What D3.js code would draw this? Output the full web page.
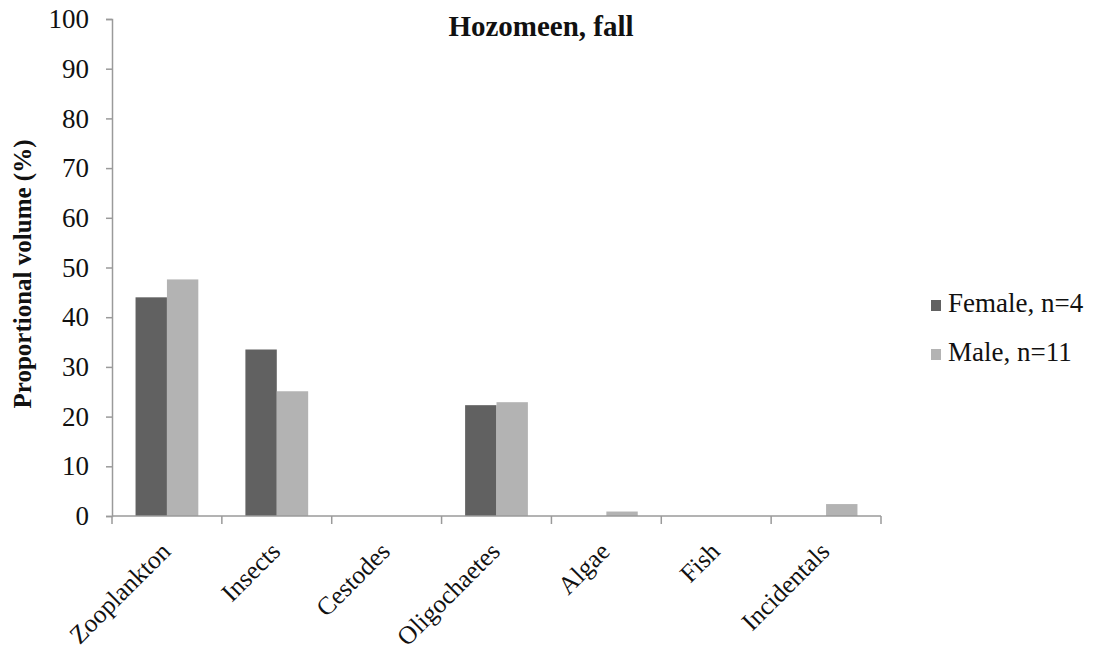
<!DOCTYPE html>
<html>
<head>
<meta charset="utf-8">
<script src="https://cdn.jsdelivr.net/npm/d3@7"></script>
<style>
  body { margin: 0; background: #fff; }
  svg text { font-family: "Liberation Serif", "Times New Roman", serif; }
</style>
</head>
<body>
<svg id="chart" width="1093" height="653"></svg>
<script>
// data
const categories = ["Zooplankton", "Insects", "Cestodes", "Oligochaetes", "Algae", "Fish", "Incidentals"];
const seriesNames = ["Female, n=4", "Male, n=11"];
const female = [44.0, 33.5, 0, 22.3, 0, 0, 0];
const male = [47.6, 25.1, 0, 22.9, 0.9, 0, 2.4];
const yTicks = [0, 10, 20, 30, 40, 50, 60, 70, 80, 90, 100];
const colors = ["#616161", "#b3b3b3"];

const margin = {left: 112, top: 19, right: 881, bottom: 516};
const svg = d3.select("#chart");

const x = d3.scaleBand().domain(categories).range([margin.left, margin.right]);
const xs = d3.scaleBand().domain(seriesNames).range([0, x.bandwidth()]).paddingInner(0).paddingOuter(0.75);
const y = d3.scaleLinear().domain([0, 100]).range([margin.bottom, margin.top]);

const axisColor = "#9a9a9a";

// y axis
const yAxis = svg.append("g")
  .attr("transform", "translate(" + margin.left + ",0)")
  .call(d3.axisLeft(y).tickValues(yTicks).tickSize(6).tickPadding(17));
yAxis.select(".domain").attr("stroke", axisColor).attr("stroke-width", 1.5);
yAxis.selectAll(".tick line").attr("stroke", axisColor).attr("stroke-width", 1.5);
yAxis.selectAll(".tick text")
  .attr("font-size", 27).attr("fill", "#111")
  .style("font-family", "Liberation Serif");

// bars
const data = [female, male];
data.forEach((vals, s) => {
  svg.append("g").selectAll("rect")
    .data(vals)
    .enter().append("rect")
    .attr("x", (d, i) => x(categories[i]) + xs(seriesNames[s]))
    .attr("y", d => y(d))
    .attr("width", xs.bandwidth())
    .attr("height", d => y(0) - y(d))
    .attr("fill", colors[s]);
});

// x axis with ticks between categories
const xAxis = svg.append("g")
  .attr("transform", "translate(0," + margin.bottom + ")");
xAxis.append("line")
  .attr("x1", margin.left).attr("x2", margin.right)
  .attr("stroke", axisColor).attr("stroke-width", 1.5);
const edges = categories.map(c => x(c)).concat([margin.right]);
xAxis.selectAll(".tk").data(edges).enter().append("line")
  .attr("x1", d => d).attr("x2", d => d)
  .attr("y1", 0).attr("y2", 8)
  .attr("stroke", axisColor).attr("stroke-width", 1.5);
xAxis.selectAll(".lbl").data(categories).enter().append("text")
  .attr("transform", d => "translate(" + (x(d) + x.bandwidth() / 2 + 5) + ",37) rotate(-45)")
  .attr("text-anchor", "end")
  .attr("font-size", 25.5)
  .attr("fill", "#111")
  .text(d => d);

// title
svg.append("text")
  .attr("x", 541).attr("y", 36)
  .attr("text-anchor", "middle")
  .attr("font-size", 29).attr("font-weight", "bold")
  .attr("fill", "#111")
  .text("Hozomeen, fall");

// y label
svg.append("text")
  .attr("transform", "translate(31,274) rotate(-90)")
  .attr("text-anchor", "middle")
  .attr("font-size", 25).attr("font-weight", "bold")
  .attr("fill", "#111")
  .text("Proportional volume (%)");

// legend
const legend = svg.append("g").attr("transform", "translate(931,300)");
seriesNames.forEach((name, i) => {
  const g = legend.append("g").attr("transform", "translate(0," + (i * 49) + ")");
  g.append("rect").attr("width", 10).attr("height", 11).attr("fill", colors[i]);
  g.append("text").attr("x", 17).attr("y", 12)
    .attr("font-size", 27).attr("fill", "#111")
    .text(name);
});
</script>
</body>
</html>
